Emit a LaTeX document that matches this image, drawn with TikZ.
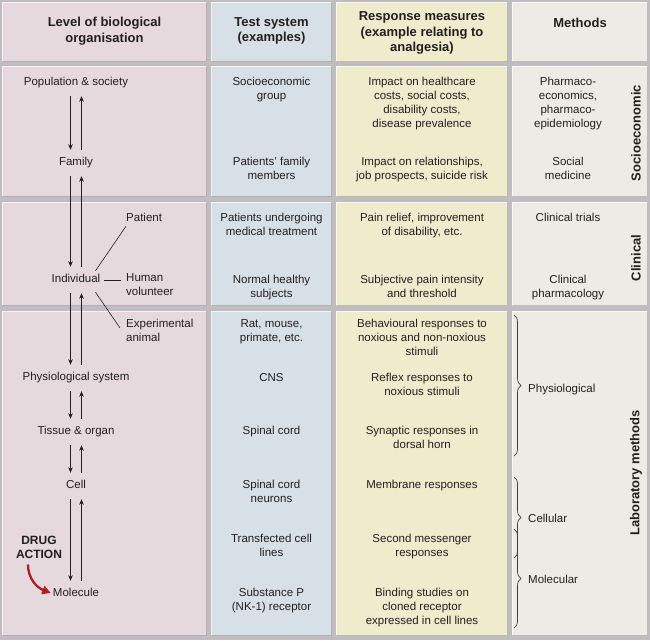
\documentclass[tikz,border=0pt]{standalone}
\usepackage{fontspec}
\setmainfont{Liberation Sans}
\usetikzlibrary{arrows.meta,decorations.pathreplacing}
\definecolor{cA}{RGB}{230,217,221}
\definecolor{cB}{RGB}{214,224,230}
\definecolor{cC}{RGB}{238,236,204}
\definecolor{cD}{RGB}{238,235,231}
\definecolor{gapc}{RGB}{192,188,194}
\definecolor{ink}{RGB}{35,31,32}
\definecolor{drugred}{RGB}{176,30,32}
\begin{document}
\begin{tikzpicture}[x=1pt,y=-1pt,
  txt/.style={font=\fontsize{11.5}{14}\selectfont, align=center, text=ink, inner sep=2pt,
    execute at begin node=\strut, execute at end node=\strut},
  hdr/.style={font=\bfseries\fontsize{13}{15.5}\selectfont, align=center, text=ink, inner sep=2pt,
    execute at begin node=\strut, execute at end node=\strut},
  sidelab/.style={font=\bfseries\fontsize{13}{15.5}\selectfont, text=ink, rotate=90, inner sep=1pt},
  uarr/.style={draw=ink, line width=0.7pt, -{Stealth[length=5.5pt,width=4.5pt]}, shorten <=4pt, shorten >=4pt},
  thinln/.style={draw=ink, line width=0.6pt},
  drugarr/.style={draw=drugred, line width=2.3pt, -{Triangle[length=8.5pt,width=8.5pt]}},
  brc/.style={draw=ink!85, line width=0.7pt, decorate, decoration={brace, amplitude=7pt}}]
\useasboundingbox (0,0) rectangle (650,640);
\fill[gapc] (0,0) rectangle (650,640);
% cells
\foreach \xa/\xb/\cc in {2/207/cA,211/332/cB,336/508/cC,512/648/cD}{
  \foreach \ya/\yb in {2/62,66/197,202/306,311/636}{
    \fill[\cc] (\xa,\ya) rectangle (\xb,\yb);
    \draw[white, opacity=.65, line width=1.3pt] (\xa+.7,\yb) -- (\xa+.7,\ya+.7) -- (\xb,\ya+.7);
    \draw[black, opacity=.2, line width=1.3pt] (\xb-.7,\ya) -- (\xb-.7,\yb-.7) -- (\xa,\yb-.7);
  }
}
% braces
\draw[brc] (514,315) -- (514,456);
\draw[brc] (514,477) -- (514,558);
\draw[brc] (514,529) -- (514,628);
\begin{scope}[yshift=-2pt]
% headers
\node[hdr] (h1) at (104.5,30) {Level of biological\\organisation};
\node[hdr] (h2) at (271.5,30) {Test system\\(examples)};
\node[hdr] (h3) at (422,32) {Response measures\\(example relating to\\analgesia)};
\node[hdr] (h4) at (580,22) {Methods};
% column 1
\node[txt] (pop) at (76,81) {Population \& society};
\node[txt] (fam) at (76,161) {Family};
\node[txt] (ind) at (76,278) {Individual};
\node[txt] (phys) at (76,376) {Physiological system};
\node[txt] (tis) at (76,430) {Tissue \& organ};
\node[txt] (cel) at (76,484) {Cell};
\node[txt] (mol) at (76,592) {Molecule};
\node[txt, anchor=west] (pat) at (124,217) {Patient};
\node[txt, anchor=west, align=left] (hum) at (124,285) {Human\\volunteer};
\node[txt, anchor=west, align=left] (exa) at (124,330) {Experimental\\animal};
\node[font=\bfseries\fontsize{12}{14}\selectfont, align=center, text=ink, inner sep=2pt,
  execute at begin node=\strut, execute at end node=\strut] (drug) at (39,547) {DRUG\\ACTION};
\foreach \a/\b in {pop/fam, fam/ind, ind/phys, phys/tis, tis/cel, cel/mol}{
  \draw[uarr] ([xshift=-5.5pt]\a.south) -- ([xshift=-5.5pt]\b.north);
  \draw[uarr] ([xshift=5.5pt]\b.north) -- ([xshift=5.5pt]\a.south);
}
\draw[thinln] ([xshift=-7pt]ind.north east) -- ([xshift=2pt,yshift=2pt]pat.south west);
\draw[thinln, shorten <=2pt, shorten >=3pt] (ind.east) -- (ind.east -| hum.west);
\draw[thinln] ([xshift=-7pt,yshift=-3pt]ind.south east) -- ([xshift=-4pt,yshift=4pt]exa.west);
\draw[drugarr] ([xshift=-11pt]drug.south) .. controls +(0,15) and +(-13,-5) .. ([yshift=1pt]mol.west);
% column 2
\node[txt] (s1) at (271.5,88) {Socioeconomic\\group};
\node[txt] (s2) at (271.5,168) {Patients' family\\members};
\node[txt] (s3) at (271.5,224) {Patients undergoing\\medical treatment};
\node[txt] (s4) at (271.5,286) {Normal healthy\\subjects};
\node[txt] (s5) at (271.5,330.5) {Rat, mouse,\\primate, etc.};
\node[txt] (s6) at (271.5,377) {CNS};
\node[txt] (s7) at (271.5,430) {Spinal cord};
\node[txt] (s8) at (271.5,491) {Spinal cord\\neurons};
\node[txt] (s9) at (271.5,545) {Transfected cell\\lines};
\node[txt] (s10) at (271.5,599) {Substance P\\(NK-1) receptor};
% column 3
\node[txt] (r1) at (422,102) {Impact on healthcare\\costs, social costs,\\disability costs,\\disease prevalence};
\node[txt] (r2) at (422,168) {Impact on relationships,\\job prospects, suicide risk};
\node[txt] (r3) at (422,224) {Pain relief, improvement\\of disability, etc.};
\node[txt] (r4) at (422,286) {Subjective pain intensity\\and threshold};
\node[txt] (r5) at (422,337) {Behavioural responses to\\noxious and non-noxious\\stimuli};
\node[txt] (r6) at (422,384) {Reflex responses to\\noxious stimuli};
\node[txt] (r7) at (422,437) {Synaptic responses in\\dorsal horn};
\node[txt] (r8) at (422,484) {Membrane responses};
\node[txt] (r9) at (422,545) {Second messenger\\responses};
\node[txt] (r10) at (422,606) {Binding studies on\\cloned receptor\\expressed in cell lines};
% column 4
\node[txt] (m1) at (568,102) {Pharmaco-\\economics,\\pharmaco-\\epidemiology};
\node[txt] (m2) at (568,168) {Social\\medicine};
\node[txt] (m3) at (568,217) {Clinical trials};
\node[txt] (m4) at (568,286) {Clinical\\pharmacology};
\node[sidelab] (l1) at (636,131) {Socioeconomic};
\node[sidelab] (l2) at (636,256) {Clinical};
\node[sidelab] (l3) at (636,471) {Laboratory methods};
\node[txt, anchor=west] (b1) at (526,388) {Physiological};
\node[txt, anchor=west] (b2) at (526,518) {Cellular};
\node[txt, anchor=west] (b3) at (526,579) {Molecular};
\end{scope}
\end{tikzpicture}
\end{document}
